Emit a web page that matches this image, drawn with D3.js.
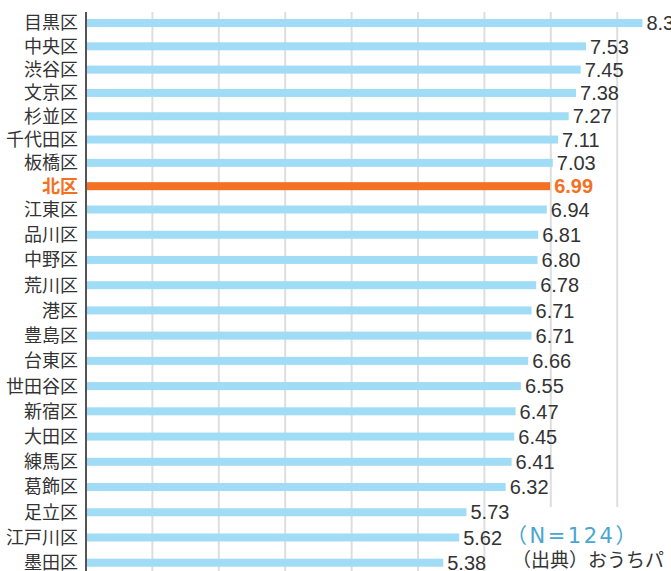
<!DOCTYPE html>
<html>
<head>
<meta charset="utf-8">
<script src="https://cdn.jsdelivr.net/npm/d3@7"></script>
<style>
  html, body { margin: 0; padding: 0; background: #fff; overflow: hidden; }
  svg { display: block; }
</style>
</head>
<body>
<div id="chart"></div>
<script>
// ward names, top to bottom
var wards = ['目黒区', '中央区', '渋谷区', '文京区', '杉並区', '千代田区', '板橋区', '北区',
    '江東区', '品川区', '中野区', '荒川区', '港区', '豊島区', '台東区', '世田谷区',
    '新宿区', '大田区', '練馬区', '葛飾区', '足立区', '江戸川区', '墨田区'];

// score per ward (first one is cut off at the right edge)
var scores = [8.38, 7.53, 7.45, 7.38, 7.27, 7.11, 7.03, 6.99,
    6.94, 6.81, 6.80, 6.78, 6.71, 6.71, 6.66, 6.55,
    6.47, 6.45, 6.41, 6.32, 5.73, 5.62, 5.38];

var labels = ['8.38', '7.53', '7.45', '7.38', '7.27', '7.11', '7.03', '6.99',
    '6.94', '6.81', '6.80', '6.78', '6.71', '6.71', '6.66', '6.55',
    '6.47', '6.45', '6.41', '6.32', '5.73', '5.62', '5.38'];

var highlight = '北区';
var gridValues = [1, 2, 3, 4, 5, 6, 7, 8, 9];
var noteN = '（N=124）';
var noteSource = '（出典）おうちパ';

var width = 671;
var height = 571;

var data = wards.map(function (w, i) {
    return { ward: w, score: scores[i], label: labels[i], idx: i };
});

// x: 1 point = ~66px, starting at the axis line
var x = d3.scaleLinear()
    .domain([0, 9])
    .range([86, 683.6]);

// rows are a little tighter at the top than at the bottom in the picture
var y = d3.scaleLinear()
    .domain([0, 8, 22])
    .range([23, 209.5, 562.7]);

var barH = 8;
var orange = '#f47022';

var svg = d3.select('#chart').append('svg')
    .attr('width', width)
    .attr('height', height);

// vertical grid lines
svg.append('g').attr('class', 'grid')
    .selectAll('line')
    .data(gridValues)
    .enter().append('line')
    .attr('x1', function (d) { return x(d); })
    .attr('x2', function (d) { return x(d); })
    .attr('y1', 12)
    .attr('y2', height)
    .attr('stroke', '#dedede')
    .attr('stroke-width', 2);

// white box for the notes, hides the grid under it
svg.append('rect')
    .attr('x', 504).attr('y', 507)
    .attr('width', 200).attr('height', 80)
    .attr('fill', '#fff');

// bars
svg.append('g').attr('class', 'bars')
    .selectAll('rect')
    .data(data)
    .enter().append('rect')
    .attr('x', x(0))
    .attr('y', function (d) { return y(d.idx) - barH / 2; })
    .attr('width', function (d) { return x(d.score) - x(0); })
    .attr('height', barH)
    .attr('fill', function (d) { return d.ward === highlight ? orange : '#a0dcf6'; });

// axis line on the left
svg.append('line')
    .attr('x1', x(0)).attr('x2', x(0))
    .attr('y1', 12).attr('y2', height)
    .attr('stroke', '#555')
    .attr('stroke-width', 2);

// ward names
svg.append('g').attr('class', 'names')
    .selectAll('text')
    .data(data)
    .enter().append('text')
    .attr('x', 78)
    .attr('y', function (d) { return y(d.idx); })
    .attr('dy', '0.36em')
    .attr('text-anchor', 'end')
    .style('font-family', '"Noto Sans CJK JP", sans-serif')
    .style('font-size', '18px')
    .style('font-weight', function (d) { return d.ward === highlight ? 'bold' : 'normal'; })
    .attr('fill', function (d) { return d.ward === highlight ? orange : '#333'; })
    .text(function (d) { return d.ward; });

// value labels
svg.append('g').attr('class', 'values')
    .selectAll('text')
    .data(data)
    .enter().append('text')
    .attr('x', function (d) { return x(d.score) + 4; })
    .attr('y', function (d) { return y(d.idx); })
    .attr('dy', '0.36em')
    .style('font-family', '"Liberation Sans", Arial, sans-serif')
    .style('font-size', '20px')
    .style('font-weight', function (d) { return d.ward === highlight ? 'bold' : 'normal'; })
    .attr('fill', function (d) { return d.ward === highlight ? orange : '#333'; })
    .text(function (d) { return d.label; });

// notes
svg.append('text')
    .attr('x', 506)
    .attr('y', 543)
    .style('font-family', '"DejaVu Sans", "Noto Sans CJK JP", sans-serif')
    .style('font-size', '21px')
    .style('letter-spacing', '2.5px')
    .attr('fill', '#4aa6cf')
    .text(noteN);

svg.append('text')
    .attr('x', 512)
    .attr('y', 567)
    .style('font-family', '"Noto Sans CJK JP", sans-serif')
    .style('font-size', '19px')
    .attr('fill', '#333')
    .text(noteSource);
</script>
</body>
</html>
